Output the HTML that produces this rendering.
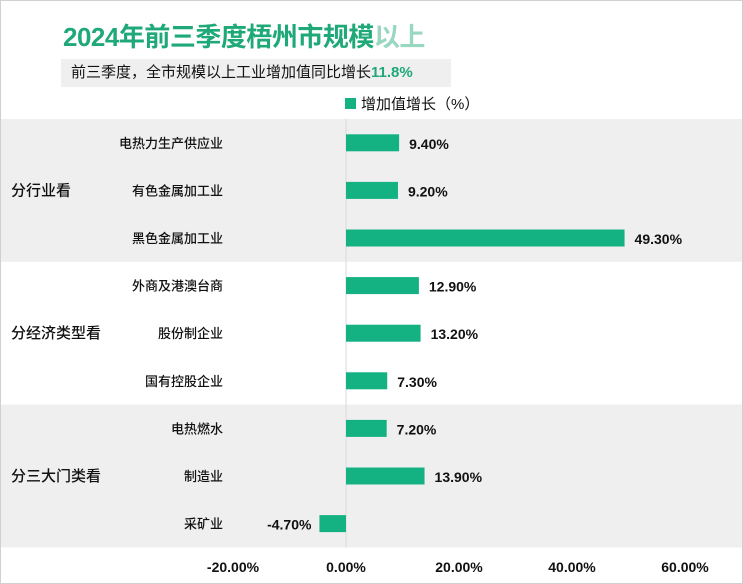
<!DOCTYPE html>
<html><head><meta charset="utf-8"><style>
body{margin:0;background:#fff;font-family:"Liberation Sans","Noto Sans CJK SC",sans-serif;}
#c{position:relative;width:741px;height:582px;border:1px solid #d0d0d0;overflow:hidden;}
</style></head><body>
<div id="c">
<div style="position:absolute;left:62px;top:16px;font-size:26px;font-weight:bold;color:#1fa878;font-family:'Liberation Sans','Noto Sans CJK SC',sans-serif;letter-spacing:-0.5px;">2024年前三季度梧州市规模<span style="opacity:0.45">以上</span></div>
<div style="position:absolute;left:60px;top:58px;width:390px;height:28px;background:#efefef;font-size:15px;line-height:28px;padding-left:10px;box-sizing:border-box;color:#111;">前三季度，全市规模以上工业增加值同比增长<span style="color:#1fa878;font-weight:bold">11.8%</span></div>
<svg id="s" width="741" height="582" style="position:absolute;left:0;top:0"></svg>
</div>
<script>
const categories=["电热力生产供应业","有色金属加工业","黑色金属加工业","外商及港澳台商","股份制企业","国有控股企业","电热燃水","制造业","采矿业"];
const values=[9.4,9.2,49.3,12.9,13.2,7.3,7.2,13.9,-4.7];
const groups=["分行业看","分经济类型看","分三大门类看"];
const groupSizes=[3,3,3];
const ticks=[-20,0,20,40,60];
const ns="http://www.w3.org/2000/svg";
const svg=document.getElementById('s');
const x0=345,pxPer=5.65,top0=118,rowH=47.6;
const X=v=>x0+v*pxPer;
const Y=i=>top0+rowH*(i+0.5);
function el(t,a,txt){const e=document.createElementNS(ns,t);for(const k in a)e.setAttribute(k,a[k]);if(txt!=null)e.textContent=txt;svg.appendChild(e);return e;}
let start=0;
groups.forEach((g,gi)=>{
 const y1=top0+start*rowH,h=groupSizes[gi]*rowH;
 if(gi%2==0){const r=el('rect',{x:0,y:y1,width:741,height:h,fill:'#efefef'});
 }
 const t=el('text',{x:10,y:y1+h/2+5,'font-size':15,'font-weight':500,fill:'#111'},g);
 
 start+=groupSizes[gi];
});
const ax=el('line',{x1:x0,y1:top0,x2:x0,y2:top0+rowH*9,stroke:'#d9d9d9'});

const lr=el('rect',{x:344,y:97,width:11,height:11,fill:'#14b183'});

const lt=el('text',{x:360,y:108,'font-size':15,fill:'#111'},'增加值增长（%）');

categories.forEach((c,i)=>{
 const v=values[i],y=Y(i);
 const cl=el('text',{x:222,y:y+5,'font-size':13,'font-weight':500,'text-anchor':'end',fill:'#111'},c);
 
 const b=el('rect',{x:Math.min(X(0),X(v)),y:y-8.5,width:Math.abs(X(v)-X(0)),height:17,fill:'#14b183'});
 
 const lab=v.toFixed(2)+'%';
 const vl=el('text',{x:v>=0?X(v)+10:X(v)-8,y:y+6,'font-size':14,'font-weight':'bold','text-anchor':v>=0?'start':'end',fill:'#111'},lab);
 
});
ticks.forEach(t=>{
 const tl=el('text',{x:X(t),y:571,'font-size':14,'font-weight':'bold','text-anchor':'middle',fill:'#111'},t.toFixed(2)+'%');
 
});
</script>
</body></html>
